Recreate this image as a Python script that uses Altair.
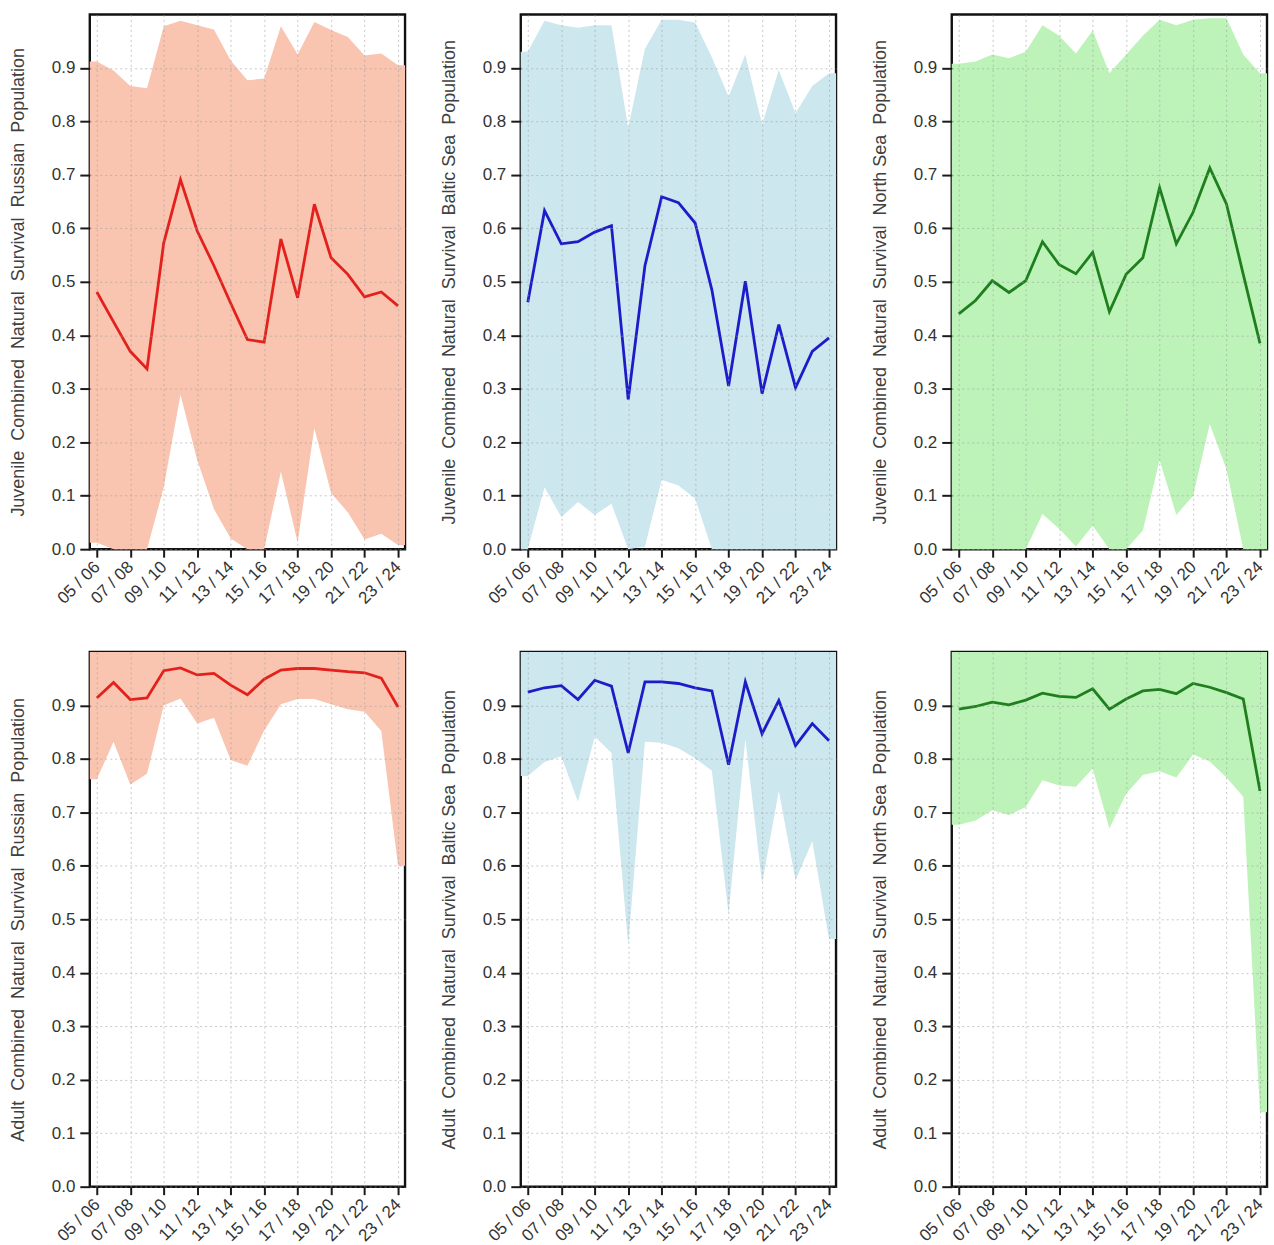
import json
import altair as alt
import pandas as pd

SEASONS = ["05 / 06", "06 / 07", "07 / 08", "08 / 09", "09 / 10", "10 / 11", "11 / 12",
           "12 / 13", "13 / 14", "14 / 15", "15 / 16", "16 / 17", "17 / 18", "18 / 19",
           "19 / 20", "20 / 21", "21 / 22", "22 / 23", "23 / 24"]

# Juvenile - Russian population
JUV_RUS_MID = [0.481, 0.425, 0.370, 0.337, 0.573, 0.691, 0.595, 0.530, 0.460, 0.392,
               0.387, 0.580, 0.470, 0.645, 0.545, 0.514, 0.472, 0.481, 0.455]
JUV_RUS_LO = [0.012, 0.000, 0.000, 0.000, 0.116, 0.289, 0.167, 0.075, 0.020, 0.000,
              0.000, 0.145, 0.013, 0.226, 0.105, 0.069, 0.018, 0.029, 0.008]
JUV_RUS_HI = [0.912, 0.895, 0.866, 0.862, 0.978, 0.988, 0.980, 0.972, 0.914, 0.877,
              0.880, 0.978, 0.925, 0.986, 0.971, 0.958, 0.923, 0.927, 0.905]

# Juvenile - Baltic Sea population
JUV_BAL_MID = [0.462, 0.633, 0.571, 0.575, 0.593, 0.605, 0.280, 0.530, 0.659, 0.648,
               0.610, 0.485, 0.305, 0.501, 0.291, 0.420, 0.302, 0.370, 0.395]
JUV_BAL_LO = [0.000, 0.116, 0.060, 0.088, 0.064, 0.085, 0.000, 0.005, 0.130, 0.119,
              0.095, 0.000, 0.000, 0.000, 0.000, 0.000, 0.000, 0.000, 0.000]
JUV_BAL_HI = [0.930, 0.988, 0.980, 0.975, 0.980, 0.980, 0.788, 0.936, 0.990, 0.990,
              0.985, 0.920, 0.846, 0.925, 0.794, 0.896, 0.815, 0.866, 0.890]

# Juvenile - North Sea population
JUV_NOR_MID = [0.440, 0.465, 0.502, 0.480, 0.502, 0.575, 0.532, 0.515, 0.555, 0.444,
               0.514, 0.545, 0.676, 0.571, 0.630, 0.713, 0.645, 0.514, 0.385]
JUV_NOR_LO = [0.000, 0.000, 0.000, 0.000, 0.000, 0.066, 0.038, 0.005, 0.044, 0.000,
              0.000, 0.035, 0.167, 0.064, 0.100, 0.234, 0.149, 0.000, 0.000]
JUV_NOR_HI = [0.908, 0.912, 0.925, 0.918, 0.930, 0.980, 0.960, 0.927, 0.970, 0.890,
              0.925, 0.960, 0.990, 0.980, 0.990, 0.993, 0.993, 0.925, 0.890]

# Adult - Russian population
ADU_RUS_MID = [0.914, 0.943, 0.911, 0.914, 0.965, 0.970, 0.957, 0.960, 0.938, 0.920,
               0.949, 0.966, 0.969, 0.969, 0.966, 0.963, 0.961, 0.951, 0.897]
ADU_RUS_LO = [0.762, 0.832, 0.752, 0.772, 0.900, 0.913, 0.866, 0.877, 0.798, 0.787,
              0.853, 0.902, 0.912, 0.912, 0.902, 0.893, 0.888, 0.852, 0.600]
ADU_RUS_HI = [1.0] * 19

# Adult - Baltic Sea population
ADU_BAL_MID = [0.925, 0.933, 0.937, 0.911, 0.947, 0.936, 0.811, 0.944, 0.944, 0.941,
               0.933, 0.927, 0.789, 0.944, 0.847, 0.909, 0.825, 0.866, 0.834]
ADU_BAL_LO = [0.768, 0.794, 0.805, 0.720, 0.842, 0.811, 0.452, 0.832, 0.830, 0.820,
              0.801, 0.778, 0.510, 0.837, 0.567, 0.740, 0.573, 0.646, 0.463]
ADU_BAL_HI = [1.0] * 19

# Adult - North Sea population
ADU_NOR_MID = [0.893, 0.898, 0.906, 0.901, 0.910, 0.923, 0.917, 0.915, 0.931, 0.893,
               0.912, 0.927, 0.930, 0.922, 0.941, 0.934, 0.924, 0.912, 0.740]
ADU_NOR_LO = [0.677, 0.685, 0.704, 0.695, 0.710, 0.760, 0.750, 0.748, 0.782, 0.670,
              0.735, 0.770, 0.777, 0.765, 0.808, 0.795, 0.765, 0.729, 0.139]
ADU_NOR_HI = [1.0] * 19

TITLES = {
    "juv_rus": ["Juvenile", "Combined", "Natural", "Survival", "Russian", "Population"],
    "juv_bal": ["Juvenile", "Combined", "Natural", "Survival", "Baltic Sea", "Population"],
    "juv_nor": ["Juvenile", "Combined", "Natural", "Survival", "North Sea", "Population"],
    "adu_rus": ["Adult", "Combined", "Natural", "Survival", "Russian", "Population"],
    "adu_bal": ["Adult", "Combined", "Natural", "Survival", "Baltic Sea", "Population"],
    "adu_nor": ["Adult", "Combined", "Natural", "Survival", "North Sea", "Population"],
}

RUS_FILL, RUS_LINE = "#f9c5b0", "#e3201c"
BAL_FILL, BAL_LINE = "#cde7ef", "#1c1cc9"
NOR_FILL, NOR_LINE = "#bdf3b9", "#1f7f1f"

FONT = "Liberation Sans"
PAD = 0.42
W, H = 316, 536
GAP = "\u00a0\u00a0"


def panel(mid, lo, hi, fill, stroke, words):
    n = len(mid)
    df = pd.DataFrame({"i": list(range(n)), "mid": mid, "lo": lo, "hi": hi})
    first = df.iloc[[0]].assign(i=-PAD)
    last = df.iloc[[-1]].assign(i=n - 1 + PAD)
    band = pd.concat([first, df, last], ignore_index=True)

    xaxis = alt.Axis(
        values=list(range(0, n, 2)),
        labelExpr=f"{json.dumps(SEASONS)}[datum.value]",
        labelAngle=-45, labelAlign="right", labelBaseline="middle",
        labelPadding=7, tickSize=8, tickWidth=2, tickColor="#1a1a1a",
        domain=False, title=None, grid=True, zindex=1,
        labelOverlap=False, labelBound=False, labelFlush=False,
    )
    yaxis = alt.Axis(
        values=[round(v * 0.1, 1) for v in range(10)], format=".1f",
        tickSize=10, tickWidth=2, tickColor="#1a1a1a", labelPadding=5,
        domain=False, grid=True, zindex=1,
        labelOverlap=False, labelBound=False, labelFlush=False,
        title=GAP.join(words), titleAngle=-90, titleX=-71, titleY=H / 2,
        titleAlign="center", titleBaseline="middle",
    )
    xs = alt.Scale(domain=[-PAD, n - 1 + PAD], nice=False, zero=False)
    ys = alt.Scale(domain=[0, 1.0], nice=False)

    area = alt.Chart(band).mark_area(color=fill, opacity=1, interpolate="linear").encode(
        x=alt.X("i:Q", scale=xs, axis=xaxis),
        y=alt.Y("lo:Q", scale=ys, axis=yaxis),
        y2="hi:Q",
    )
    line = alt.Chart(df).mark_line(color=stroke, strokeWidth=2.8).encode(
        x=alt.X("i:Q", scale=xs, axis=xaxis),
        y=alt.Y("mid:Q", scale=ys, axis=yaxis),
    )
    return alt.layer(area, line).properties(width=W, height=H)


panels = [
    panel(JUV_RUS_MID, JUV_RUS_LO, JUV_RUS_HI, RUS_FILL, RUS_LINE, TITLES["juv_rus"]),
    panel(JUV_BAL_MID, JUV_BAL_LO, JUV_BAL_HI, BAL_FILL, BAL_LINE, TITLES["juv_bal"]),
    panel(JUV_NOR_MID, JUV_NOR_LO, JUV_NOR_HI, NOR_FILL, NOR_LINE, TITLES["juv_nor"]),
    panel(ADU_RUS_MID, ADU_RUS_LO, ADU_RUS_HI, RUS_FILL, RUS_LINE, TITLES["adu_rus"]),
    panel(ADU_BAL_MID, ADU_BAL_LO, ADU_BAL_HI, BAL_FILL, BAL_LINE, TITLES["adu_bal"]),
    panel(ADU_NOR_MID, ADU_NOR_LO, ADU_NOR_HI, NOR_FILL, NOR_LINE, TITLES["adu_nor"]),
]

chart = alt.concat(
    *panels, columns=3, spacing={"row": 103, "column": 116}, bounds="flush",
).properties(
    padding={"left": 8, "top": 11, "right": 5, "bottom": 5},
    background="white",
).configure_view(
    stroke="#111111", strokeWidth=2.4,
).configure_axis(
    labelFont=FONT, titleFont=FONT, labelFontSize=17, titleFontSize=18,
    labelColor="#333333", titleColor="#404040", titleFontWeight="normal",
    labelOverlap=False,
    gridColor="#9a9a9a", gridOpacity=0.55, gridDash=[2, 3], gridWidth=1,
)

chart.save("out.html", embed_options={"renderer": "svg", "actions": False})
